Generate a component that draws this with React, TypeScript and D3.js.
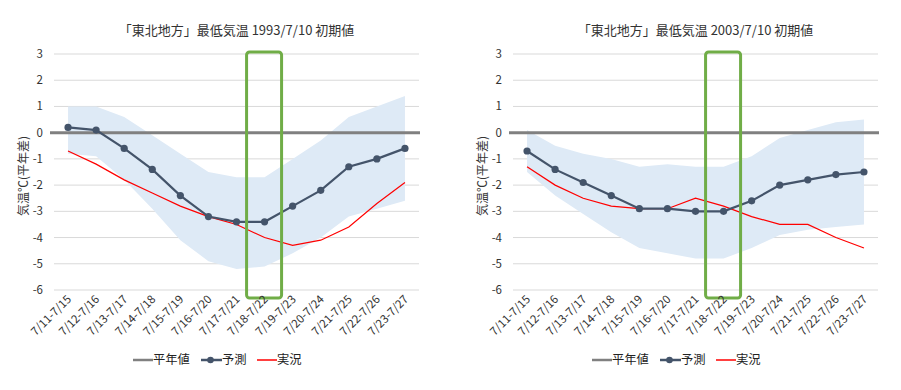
import React from "react";
import * as d3 from "d3";

const categories = ["7/11-7/15","7/12-7/16","7/13-7/17","7/14-7/18","7/15-7/19","7/16-7/20","7/17-7/21","7/18-7/22","7/19-7/23","7/20-7/24","7/21-7/25","7/22-7/26","7/23-7/27"];
const yTicks = [3,2,1,0,-1,-2,-3,-4,-5,-6];

const title1993 = "「東北地方」最低気温 1993/7/10 初期値";
const forecast1993 = [0.2,0.1,-0.6,-1.4,-2.4,-3.2,-3.4,-3.4,-2.8,-2.2,-1.3,-1.0,-0.6];
const actual1993 = [-0.7,-1.2,-1.8,-2.3,-2.8,-3.2,-3.5,-4.0,-4.3,-4.1,-3.6,-2.7,-1.9];
const upper1993 = [1.0,1.0,0.6,-0.1,-0.8,-1.5,-1.7,-1.7,-1.0,-0.3,0.6,1.0,1.4];
const lower1993 = [-0.8,-0.9,-1.8,-2.9,-4.1,-4.9,-5.2,-5.1,-4.6,-4.0,-3.2,-2.9,-2.6];

const title2003 = "「東北地方」最低気温 2003/7/10 初期値";
const forecast2003 = [-0.7,-1.4,-1.9,-2.4,-2.9,-2.9,-3.0,-3.0,-2.6,-2.0,-1.8,-1.6,-1.5];
const actual2003 = [-1.3,-2.0,-2.5,-2.8,-2.9,-2.9,-2.5,-2.8,-3.2,-3.5,-3.5,-4.0,-4.4];
const upper2003 = [0.1,-0.5,-0.8,-1.0,-1.3,-1.2,-1.3,-1.3,-0.9,-0.2,0.1,0.4,0.5];
const lower2003 = [-1.5,-2.4,-3.1,-3.8,-4.4,-4.6,-4.8,-4.8,-4.4,-3.9,-3.7,-3.6,-3.5];

const legendLabels = ["平年値", "予測", "実況"];
const highlightIndex = 7;
const FONT = "'Noto Sans CJK JP', 'Noto Sans', sans-serif";

type ChartProps = {
  ox: number; plotLeft: number; plotRight: number; title: string;
  forecast: number[]; actual: number[]; upper: number[]; lower: number[];
};

function Chart({ ox, plotLeft, plotRight, title, forecast, actual, upper, lower }: ChartProps) {
  const x = d3.scaleBand<string>().domain(categories).range([plotLeft, plotRight]);
  const y = d3.scaleLinear().domain([-6, 3]).range([290, 54]);
  const cx = (i: number) => (x(categories[i]) as number) + x.bandwidth() / 2;

  const area = d3.area<number>()
    .x((_, i) => cx(i))
    .y0((_, i) => y(lower[i]))
    .y1((d) => y(d));
  const line = d3.line<number>().x((_, i) => cx(i)).y((d) => y(d));

  const bxc = cx(highlightIndex);
  const mid = (plotLeft + plotRight) / 2;
  const lx = plotLeft + 79;

  return (
    <g>
      {yTicks.map((t) => (
        <g key={t}>
          <line x1={plotLeft} x2={plotRight} y1={y(t)} y2={y(t)} stroke="#D9D9D9" strokeWidth={1} />
          <text x={plotLeft - 11} y={y(t)} dy="0.35em" textAnchor="end" fontSize={11.5} fill="#333">{t}</text>
        </g>
      ))}
      <path d={area(upper) || ""} fill="#DEEAF6" />
      <line x1={plotLeft - 4} x2={plotRight + 1} y1={y(0)} y2={y(0)} stroke="#808080" strokeWidth={3} />
      <path d={line(actual) || ""} fill="none" stroke="#FF0000" strokeWidth={1.2} />
      <path d={line(forecast) || ""} fill="none" stroke="#44546A" strokeWidth={2.2} />
      {forecast.map((v, i) => (
        <circle key={i} cx={cx(i)} cy={y(v)} r={3.6} fill="#44546A" />
      ))}
      <rect x={bxc - 18} y={y(3) - 2} width={35} height={246} rx={3} fill="none" stroke="#70AD47" strokeWidth={3} />
      {categories.map((c, i) => (
        <text key={c} transform={`translate(${cx(i) + 4},${300}) rotate(-45)`} textAnchor="end" fontSize={11.5} fill="#333">{c}</text>
      ))}
      <text transform={`translate(${plotLeft - 26},${y(-1.65)}) rotate(-90)`} textAnchor="middle" fontSize={12} fill="#333">気温℃(平年差)</text>
      <text x={mid} y={35} textAnchor="middle" fontSize={13} fill="#333">{title}</text>
      <g transform={`translate(${lx},360)`}>
        <line x1={0} x2={20} y1={0} y2={0} stroke="#808080" strokeWidth={2.5} />
        <text x={20} y={0} dy="0.35em" fontSize={12.3} fill="#222">{legendLabels[0]}</text>
        <line x1={68} x2={89} y1={0} y2={0} stroke="#44546A" strokeWidth={2.5} />
        <circle cx={77.5} cy={0} r={3.3} fill="#44546A" />
        <text x={89} y={0} dy="0.35em" fontSize={12.3} fill="#222">{legendLabels[1]}</text>
        <line x1={124} x2={144} y1={0} y2={0} stroke="#FF0000" strokeWidth={1.5} />
        <text x={144} y={0} dy="0.35em" fontSize={12.3} fill="#222">{legendLabels[2]}</text>
      </g>
    </g>
  );
}

export default function App() {
  return (
    <svg width={901} height={390} style={{ position: "absolute", left: 0, top: 0, background: "#fff" }} fontFamily={FONT}>
      <rect width={901} height={390} fill="#fff" />
      <Chart ox={0} plotLeft={54} plotRight={419} title={title1993}
        forecast={forecast1993} actual={actual1993} upper={upper1993} lower={lower1993} />
      <Chart ox={450} plotLeft={513} plotRight={878} title={title2003}
        forecast={forecast2003} actual={actual2003} upper={upper2003} lower={lower2003} />
    </svg>
  );
}
